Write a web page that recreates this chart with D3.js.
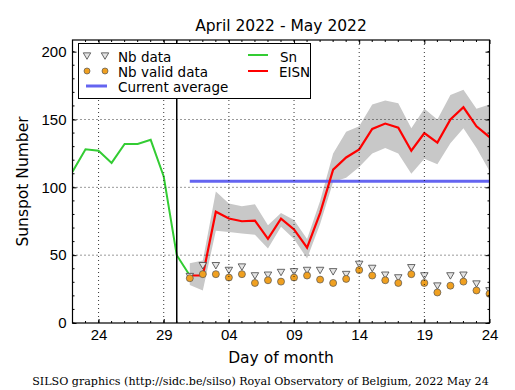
<!DOCTYPE html>
<html>
<head>
<meta charset="utf-8">
<script src="https://cdn.jsdelivr.net/npm/d3@7"></script>
<style>
  body { margin: 0; background: #fff; }
  svg { font-family: "DejaVu Sans", sans-serif; }
  .tick text { font-size: 15px; fill: #000; }
</style>
</head>
<body>
<svg width="515" height="390"></svg>
<script>
// Sn (daily) for the previous days
const snDates = ["2022-04-22", "2022-04-23", "2022-04-24", "2022-04-25", "2022-04-26",
  "2022-04-27", "2022-04-28", "2022-04-29", "2022-04-30", "2022-05-01"];
const snValues = [111.5, 128, 127, 118, 132, 132, 135, 108, 50, 35];

// EISN for the current month
const eisnDates = ["2022-05-01", "2022-05-02", "2022-05-03", "2022-05-04", "2022-05-05",
  "2022-05-06", "2022-05-07", "2022-05-08", "2022-05-09", "2022-05-10", "2022-05-11",
  "2022-05-12", "2022-05-13", "2022-05-14", "2022-05-15", "2022-05-16", "2022-05-17",
  "2022-05-18", "2022-05-19", "2022-05-20", "2022-05-21", "2022-05-22", "2022-05-23",
  "2022-05-24"];
const eisnValues = [35, 35, 82, 77, 75, 75.5, 62, 77, 69, 55.5, 81,
  113, 122, 128, 143, 147, 144, 127, 140, 133, 150, 159, 145, 137];
const eisnHigh = [44, 46, 97, 88, 86, 87.5, 72, 81, 76, 62, 90,
  125, 141, 145, 161, 164, 162, 143.5, 158, 150, 168, 172, 158, 161];
const eisnLow = [28, 24, 68, 67, 66, 65, 55, 71, 62, 47.5, 73,
  104, 107, 115, 125, 129, 125, 110, 121, 117, 132.5, 143.5, 129, 112];
const nbData = [35, 43, 43, 39.5, 42, 35.5, 36, 38, 38.5, 39.5, 39.5,
  38.5, 36.5, 44, 41, 36, 34, 41.5, 35.5, 28, 35.5, 36, 29.5, 24.5];
const nbValid = [33, 36, 36, 33.5, 36, 29.5, 31.5, 30.5, 33.5, 35, 32,
  29.5, 32.5, 39, 35, 31.5, 29.5, 36, 29.5, 22.5, 27.5, 30.5, 24, 21.5];
const currentAverage = 104.5;

const xDomain = ["2022-04-22", "2022-05-24"];
const xTickDays = ["2022-04-24", "2022-04-29", "2022-05-04", "2022-05-09",
  "2022-05-14", "2022-05-19", "2022-05-24"];
const yTicks = [0, 50, 100, 150, 200];
const monthStart = "2022-04-30";

const parse = d3.utcParse("%Y-%m-%d");
const svg = d3.select("svg");
const pLeft = 72.5, pRight = 489.5, pTop = 40, pBottom = 323;

const x = d3.scaleUtc().domain(xDomain.map(parse)).range([pLeft, pRight]);
const y = d3.scaleLinear().domain([0, 208.6]).range([pBottom, pTop]);

const sn = snDates.map((d, i) => ({ date: parse(d), v: snValues[i] }));
const eisn = eisnDates.map((d, i) => ({
  date: parse(d), v: eisnValues[i], hi: eisnHigh[i], lo: eisnLow[i],
  nb: nbData[i], valid: nbValid[i]
}));

svg.append("defs").append("clipPath").attr("id", "plot")
  .append("rect").attr("x", pLeft).attr("y", pTop)
  .attr("width", pRight - pLeft).attr("height", pBottom - pTop);

const plot = svg.append("g").attr("clip-path", "url(#plot)");

// error band
plot.append("path")
  .datum(eisn)
  .attr("fill", "#c8c8c8")
  .attr("d", d3.area().x(d => x(d.date)).y0(d => y(d.lo)).y1(d => y(d.hi)));

// grid
const grid = svg.append("g").attr("stroke", "#000").attr("stroke-width", 0.8)
  .attr("stroke-dasharray", "1,3");
grid.selectAll(".gx").data(xTickDays.slice(0, -1).map(parse)).join("line")
  .attr("x1", d => x(d)).attr("x2", d => x(d)).attr("y1", pTop).attr("y2", pBottom);
grid.selectAll(".gy").data(yTicks.slice(1, -1)).join("line")
  .attr("y1", d => y(d)).attr("y2", d => y(d)).attr("x1", pLeft).attr("x2", pRight);

// current average
plot.append("line")
  .attr("x1", x(parse(eisnDates[0]))).attr("x2", pRight)
  .attr("y1", y(currentAverage)).attr("y2", y(currentAverage))
  .attr("stroke", "#6464f0").attr("stroke-width", 3);

// month separator
svg.append("line")
  .attr("x1", x(parse(monthStart))).attr("x2", x(parse(monthStart)))
  .attr("y1", pTop).attr("y2", pBottom)
  .attr("stroke", "#000").attr("stroke-width", 1.5);

const line = d3.line().x(d => x(d.date)).y(d => y(d.v));
plot.append("path").datum(sn).attr("fill", "none")
  .attr("stroke", "#33cc33").attr("stroke-width", 2).attr("d", line);
plot.append("path").datum(eisn).attr("fill", "none")
  .attr("stroke", "#ff0000").attr("stroke-width", 2.2).attr("d", line);

// markers
const tri = d3.symbol().type(d3.symbolTriangle).size(24);
plot.selectAll(".nb").data(eisn).join("path")
  .attr("transform", d => `translate(${x(d.date)},${y(d.nb)}) rotate(180)`)
  .attr("d", tri).attr("fill", "#e4e4e4").attr("stroke", "#444").attr("stroke-width", 0.8);
plot.selectAll(".valid").data(eisn).join("circle")
  .attr("cx", d => x(d.date)).attr("cy", d => y(d.valid)).attr("r", 3.5)
  .attr("fill", "#f0a020").attr("stroke", "#555").attr("stroke-width", 0.7);

// axes with inward ticks
const dayTicks = d3.utcDay.range(x.domain()[0], d3.utcDay.offset(x.domain()[1], 1));
const yMinor = d3.range(0, 209, 10);
function minorX(g, sign) {
  g.selectAll("line").data(dayTicks).join("line")
    .attr("x1", d => x(d)).attr("x2", d => x(d))
    .attr("y1", 0).attr("y2", sign * 2).attr("stroke", "#000");
}
function minorY(g, sign) {
  g.selectAll("line").data(yMinor).join("line")
    .attr("y1", d => y(d)).attr("y2", d => y(d))
    .attr("x1", 0).attr("x2", sign * 2).attr("stroke", "#000");
}
const xTickVals = xTickDays.map(parse);
svg.append("g").attr("transform", `translate(0,${pBottom})`)
  .call(d3.axisBottom(x).tickValues(xTickVals).tickFormat(d3.utcFormat("%d"))
    .tickSize(-4).tickPadding(6))
  .call(g => g.select(".domain").remove());
svg.append("g").attr("transform", `translate(0,${pTop})`)
  .call(d3.axisTop(x).tickValues(xTickVals).tickFormat("").tickSize(-4))
  .call(g => g.select(".domain").remove());
svg.append("g").attr("transform", `translate(${pLeft},0)`)
  .call(d3.axisLeft(y).tickValues(yTicks).tickSize(-4).tickPadding(6))
  .call(g => g.select(".domain").remove());
svg.append("g").attr("transform", `translate(${pRight},0)`)
  .call(d3.axisRight(y).tickValues(yTicks).tickFormat("").tickSize(-4))
  .call(g => g.select(".domain").remove());
svg.append("g").attr("transform", `translate(0,${pBottom})`).call(minorX, -1);
svg.append("g").attr("transform", `translate(0,${pTop})`).call(minorX, 1);
svg.append("g").attr("transform", `translate(${pLeft},0)`).call(minorY, 1);
svg.append("g").attr("transform", `translate(${pRight},0)`).call(minorY, -1);

svg.append("rect").attr("x", pLeft).attr("y", pTop)
  .attr("width", pRight - pLeft).attr("height", pBottom - pTop)
  .attr("fill", "none").attr("stroke", "#000").attr("stroke-width", 1.2);

// legend
const lg = svg.append("g");
lg.append("rect").attr("x", 78.5).attr("y", 43.5).attr("width", 232).attr("height", 55)
  .attr("fill", "#fff").attr("stroke", "#000").attr("stroke-width", 1);
const lgRows = [57, 72, 87];
[87, 105].forEach(px => {
  lg.append("path").attr("transform", `translate(${px},${lgRows[0] - 2}) rotate(180)`)
    .attr("d", tri).attr("fill", "#e4e4e4").attr("stroke", "#444").attr("stroke-width", 0.8);
  lg.append("circle").attr("cx", px).attr("cy", lgRows[1] - 1).attr("r", 3)
    .attr("fill", "#f0a020").attr("stroke", "#555").attr("stroke-width", 0.7);
});
lg.append("line").attr("x1", 86).attr("x2", 107).attr("y1", lgRows[2] - 1).attr("y2", lgRows[2] - 1)
  .attr("stroke", "#6464f0").attr("stroke-width", 3);
lg.append("line").attr("x1", 248).attr("x2", 268).attr("y1", lgRows[0] - 2).attr("y2", lgRows[0] - 2)
  .attr("stroke", "#33cc33").attr("stroke-width", 2);
lg.append("line").attr("x1", 248).attr("x2", 268).attr("y1", lgRows[1] - 1).attr("y2", lgRows[1] - 1)
  .attr("stroke", "#ff0000").attr("stroke-width", 2);
const lgText = [["Nb data", 118, lgRows[0]], ["Nb valid data", 118, lgRows[1]],
  ["Current average", 118, lgRows[2]], ["Sn", 280, lgRows[0]], ["EISN", 279, lgRows[1]]];
lg.selectAll("text").data(lgText).join("text")
  .attr("x", d => d[1]).attr("y", d => d[2] + 5).attr("font-size", 13.5).text(d => d[0]);

// titles
svg.append("text").attr("x", (pLeft + pRight) / 2).attr("y", 31).attr("text-anchor", "middle")
  .attr("font-size", 15.5).text("April 2022 - May 2022");
svg.append("text").attr("x", (pLeft + pRight) / 2).attr("y", 363).attr("text-anchor", "middle")
  .attr("font-size", 15.5).text("Day of month");
svg.append("text").attr("transform", `translate(28,${(pTop + pBottom) / 2}) rotate(-90)`)
  .attr("text-anchor", "middle").attr("font-size", 15.5).text("Sunspot Number");
svg.append("text").attr("x", 260.5).attr("y", 385).attr("text-anchor", "middle")
  .attr("font-family", "DejaVu Serif, serif").attr("font-size", 11.1)
  .text("SILSO graphics (http://sidc.be/silso) Royal Observatory of Belgium, 2022 May 24");
</script>
</body>
</html>
